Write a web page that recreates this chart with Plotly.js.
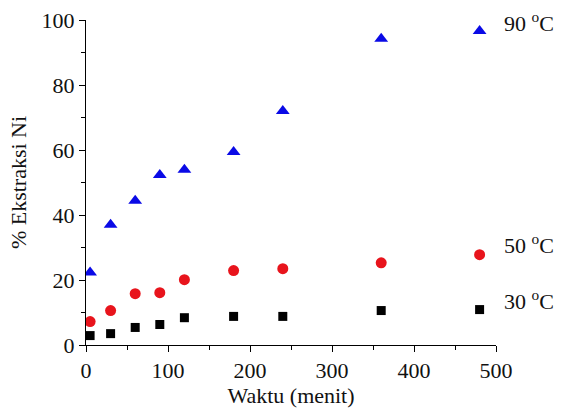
<!DOCTYPE html>
<html>
<head>
<meta charset="utf-8">
<script src="https://cdn.plot.ly/plotly-3.0.1.min.js"></script>
<style>html,body{margin:0;padding:0;background:#fff;}#chart{width:565px;height:416px;}.modebar-container{display:none !important;}</style>
</head>
<body>
<div id="chart"></div>
<script>
const waktu = [5, 30, 60, 90, 120, 180, 240, 360, 480];
const ni30 = [2.9, 3.5, 5.4, 6.3, 8.4, 8.8, 8.8, 10.6, 10.9];
const ni50 = [7.2, 10.6, 15.8, 16.1, 20.1, 22.9, 23.5, 25.3, 27.8];
const ni90 = [22.3, 37.0, 44.4, 52.3, 53.9, 59.4, 72.0, 94.2, 96.6];
const seriesLabels = ['30 <sup>o</sup>C', '50 <sup>o</sup>C', '90 <sup>o</sup>C'];

function f(size) { return {family: 'Liberation Serif', size: size || 22, color: '#111111'}; }

const traces = [
  {x: waktu, y: ni30, mode: 'markers', type: 'scatter', name: seriesLabels[0],
   marker: {symbol: 'square', size: 9, color: '#000000'}},
  {x: waktu, y: ni50, mode: 'markers', type: 'scatter', name: seriesLabels[1],
   marker: {symbol: 'circle', size: 11, color: '#e8141c'}},
  {x: waktu, y: ni90, mode: 'markers', type: 'scatter', name: seriesLabels[2],
   marker: {symbol: 'triangle-up', size: 12, color: '#0a0ae6'}}
];

const layout = {
  width: 565, height: 416,
  margin: {l: 86, r: 69, t: 20, b: 71},
  paper_bgcolor: '#ffffff', plot_bgcolor: '#ffffff',
  showlegend: false,
  font: f(22),
  xaxis: {
    range: [0, 500], tickmode: 'linear', tick0: 0, dtick: 100,
    showgrid: false, zeroline: false, showline: true, linecolor: '#000000', linewidth: 1,
    ticks: 'outside', ticklen: 6, tickwidth: 1, tickcolor: '#000000', tickfont: f(22),
    minor: {ticks: 'outside', ticklen: 4, tickmode: 'linear', tick0: 0, dtick: 50, showgrid: false},
    title: {text: 'Waktu (menit)', font: f(22), standoff: 4}
  },
  yaxis: {
    range: [0, 100], tickmode: 'linear', tick0: 0, dtick: 20,
    showgrid: false, zeroline: false, showline: true, linecolor: '#000000', linewidth: 1,
    ticks: 'outside', ticklen: 6, tickwidth: 1, tickcolor: '#000000', tickfont: f(22),
    minor: {ticks: 'outside', ticklen: 4, tickmode: 'linear', tick0: 0, dtick: 10, showgrid: false},
    title: {text: '% Ekstraksi Ni', font: f(22), standoff: 8}
  },
  annotations: [
    {xref: 'paper', yref: 'paper', x: 1.015, y: 0.994, xanchor: 'left', yanchor: 'middle',
     text: seriesLabels[2], showarrow: false, font: f(22)},
    {xref: 'paper', yref: 'paper', x: 1.015, y: 0.312, xanchor: 'left', yanchor: 'middle',
     text: seriesLabels[1], showarrow: false, font: f(22)},
    {xref: 'paper', yref: 'paper', x: 1.015, y: 0.14, xanchor: 'left', yanchor: 'middle',
     text: seriesLabels[0], showarrow: false, font: f(22)}
  ]
};

Plotly.newPlot('chart', traces, layout);
</script>
</body>
</html>
